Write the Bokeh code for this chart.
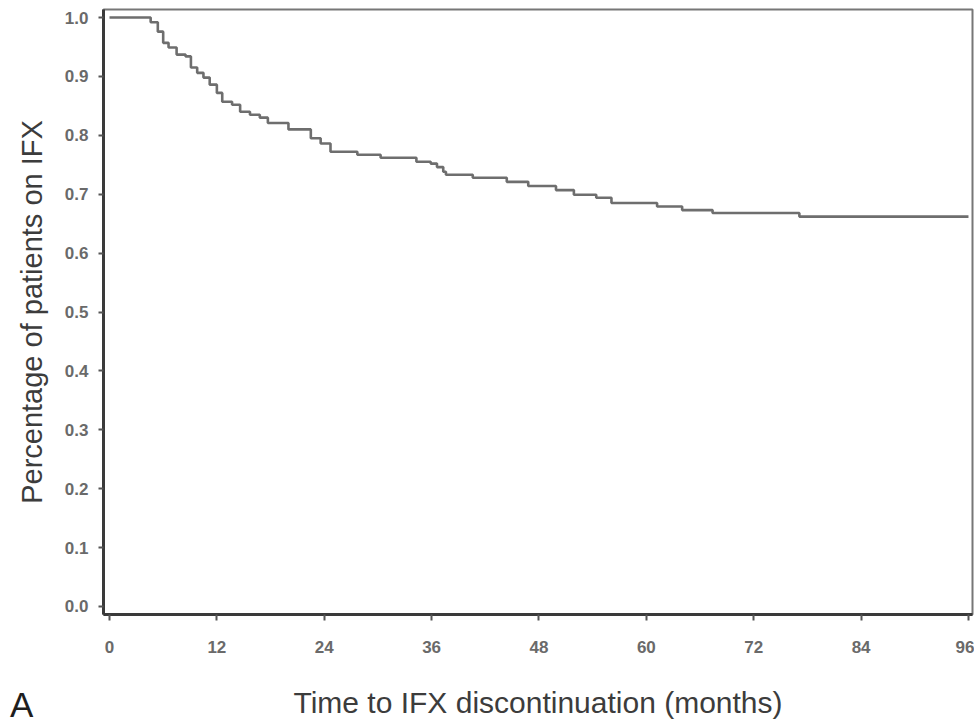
from bokeh.plotting import figure
from bokeh.models import FixedTicker, Range1d, NumeralTickFormatter, Div
from bokeh.layouts import column
from bokeh.embed import file_html
from bokeh.resources import INLINE

# Kaplan-Meier step curve (months, proportion still on IFX)
months = [0.0, 4.6, 5.4, 6.0, 6.6, 7.5, 8.5, 9.1, 9.8, 10.5, 11.2, 12.0, 12.6,
          13.7, 14.6, 15.7, 16.8, 17.7, 20.0, 22.5, 23.6, 24.7, 27.7, 30.3,
          34.3, 35.9, 36.6, 37.3, 37.6, 40.6, 44.4, 46.8, 49.9, 51.9, 54.4,
          56.1, 61.2, 64.0, 67.4, 77.1, 96.0]
survival = [1.000, 0.992, 0.976, 0.957, 0.949, 0.937, 0.934, 0.915, 0.906, 0.898,
            0.886, 0.872, 0.857, 0.852, 0.840, 0.835, 0.830, 0.821, 0.810, 0.795,
            0.786, 0.772, 0.767, 0.762, 0.755, 0.752, 0.746, 0.738, 0.733, 0.728,
            0.721, 0.714, 0.707, 0.699, 0.694, 0.685, 0.679, 0.673, 0.668, 0.662,
            0.662]

x_ticks = [0, 12, 24, 36, 48, 60, 72, 84, 96]
y_ticks = [0.0, 0.1, 0.2, 0.3, 0.4, 0.5, 0.6, 0.7, 0.8, 0.9, 1.0]
panel_letter = "A"

p = figure(width=974, height=727, output_backend="svg", toolbar_location=None,
           x_range=Range1d(-0.67, 96.45), y_range=Range1d(-0.0136, 1.0136),
           min_border_left=103, min_border_right=2, min_border_top=9,
           min_border_bottom=113)
p.grid.visible = False
p.background_fill_color = "white"
p.border_fill_color = "white"
p.outline_line_color = "#777777"
p.outline_line_width = 2

p.step(months, survival, mode="after", line_color="#6e6e6e", line_width=2.6)

# x axis
xa = p.xaxis[0]
xa.ticker = FixedTicker(ticks=x_ticks)
xa.axis_line_color = "#3a3a3a"
xa.axis_line_width = 3
xa.major_tick_line_color = "#555555"
xa.major_tick_line_width = 2
xa.major_tick_out = 6
xa.major_tick_in = 0
xa.minor_tick_line_color = None
xa.major_label_text_font = "Liberation Sans"
xa.major_label_text_font_style = "bold"
xa.major_label_text_font_size = "17px"
xa.major_label_text_color = "#6a6a6a"
xa.major_label_standoff = 20
xa.axis_label = "Time to IFX discontinuation (months)"
xa.axis_label_text_font = "Liberation Sans"
xa.axis_label_text_font_style = "normal"
xa.axis_label_text_font_size = "30px"
xa.axis_label_text_color = "#3c3c3c"
xa.axis_label_standoff = 30

# y axis
ya = p.yaxis[0]
ya.ticker = FixedTicker(ticks=y_ticks)
ya.formatter = NumeralTickFormatter(format="0.0")
ya.axis_line_color = "#3a3a3a"
ya.axis_line_width = 3
ya.major_tick_line_color = "#555555"
ya.major_tick_line_width = 2
ya.major_tick_out = 5
ya.major_tick_in = 0
ya.minor_tick_line_color = None
ya.major_label_text_font = "Liberation Sans"
ya.major_label_text_font_style = "bold"
ya.major_label_text_font_size = "17px"
ya.major_label_text_color = "#6a6a6a"
ya.major_label_standoff = 10
ya.axis_label = "Percentage of patients on IFX"
ya.axis_label_text_font = "Liberation Sans"
ya.axis_label_text_font_style = "normal"
ya.axis_label_text_font_size = "29px"
ya.axis_label_text_color = "#3c3c3c"
ya.axis_label_standoff = 14

letter = Div(text=panel_letter, width=40, height=40, margin=(-42, 0, 0, 10),
             styles={"position": "relative", "z-index": "10",
                     "font-family": "Liberation Sans", "font-size": "35px",
                     "line-height": "40px", "color": "#1e1e1e"})

layout = column(p, letter, spacing=0)
open("out.html", "w").write(file_html(layout, INLINE))
